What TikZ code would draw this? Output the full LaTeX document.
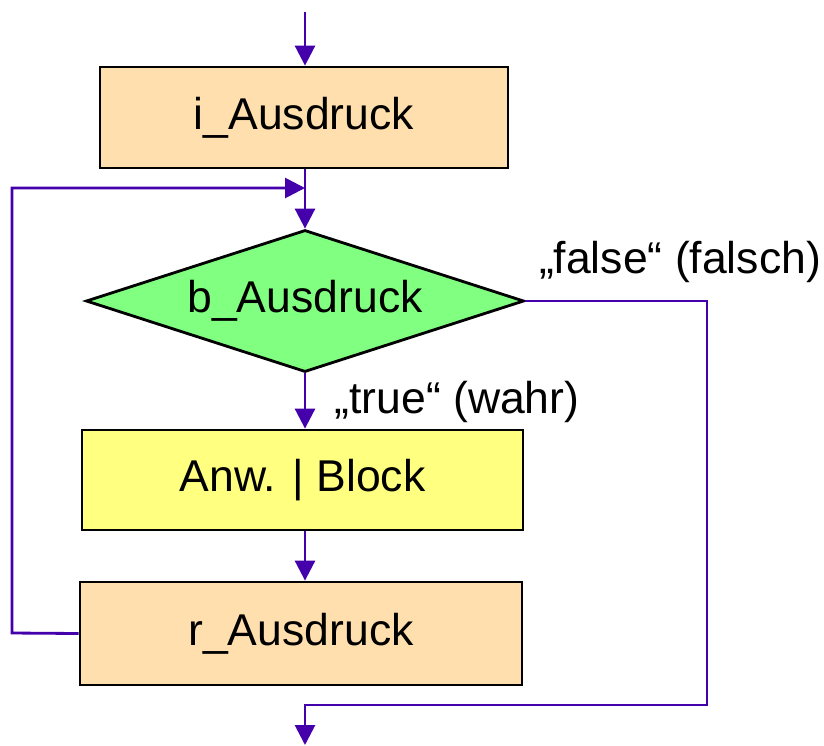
\documentclass[tikz,border=0pt]{standalone}
\usepackage{fontspec}
\setmainfont{Liberation Sans}
\usepackage{xcolor}
\usetikzlibrary{arrows.meta,shapes.geometric}

\definecolor{flow}{HTML}{4400AA}
\definecolor{orangebox}{HTML}{FFDFAD}
\definecolor{yellowbox}{HTML}{FFFF80}
\definecolor{greenbox}{HTML}{80FF80}

\begin{document}
\begin{tikzpicture}[x=0.03cm,y=-0.03cm,
	font=\fontsize{38}{40}\selectfont,
	box/.style={draw=black,line width=2.4pt,rectangle,inner sep=0pt},
	cond/.style={draw=black,line width=2.4pt,diamond,inner sep=0pt,aspect=3.08},
	flowline/.style={draw=flow,line width=2.4pt},
	flowarrow/.style={flowline,-{Triangle[length=17pt,width=17pt]}}]
	\useasboundingbox (0,0) rectangle (824,745);

	\node[box,fill=orangebox,minimum width=12.24cm,minimum height=3.03cm] (init) at (304,117.5) {i\_Ausdruck};
	\node[cond,fill=greenbox,minimum width=13.14cm,minimum height=4.26cm] (test) at (305,301) {b\_Ausdruck};
	\node[box,fill=yellowbox,minimum width=13.23cm,minimum height=3cm] (body) at (302.5,480) {Anw. | Block};
	\node[box,fill=orangebox,minimum width=13.26cm,minimum height=3.09cm] (step) at (301,633.5) {r\_Ausdruck};

	\node (falselbl) at (680,262) {„false“ (falsch)};
	\node (truelbl) at (457,402) {„true“ (wahr)};

	\coordinate (start) at (305,12);
	\coordinate (merge) at (305,188);
	\coordinate (loopbottom) at (12,633);
	\coordinate (looptop) at (12,188);
	\coordinate (exittop) at (707,301);
	\coordinate (exitbottom) at (707,705);
	\coordinate (exitturn) at (305,705);
	\coordinate (finish) at (305,745);

	\draw[flowarrow] (start) -- (start |- init.north);
	\draw[flowarrow] (start |- init.south) -- (test.north);
	\draw[flowarrow] (test.south) -- (start |- body.north);
	\draw[flowarrow] (start |- body.south) -- (start |- step.north);
	% back to the condition
	\draw[flowarrow] (step.west) -- (loopbottom) -- (looptop) -- (merge);
	% leave the loop
	\draw[flowarrow] (test.east) -- (exittop) -- (exitbottom) -- (exitturn) -- (finish);
\end{tikzpicture}
\end{document}
